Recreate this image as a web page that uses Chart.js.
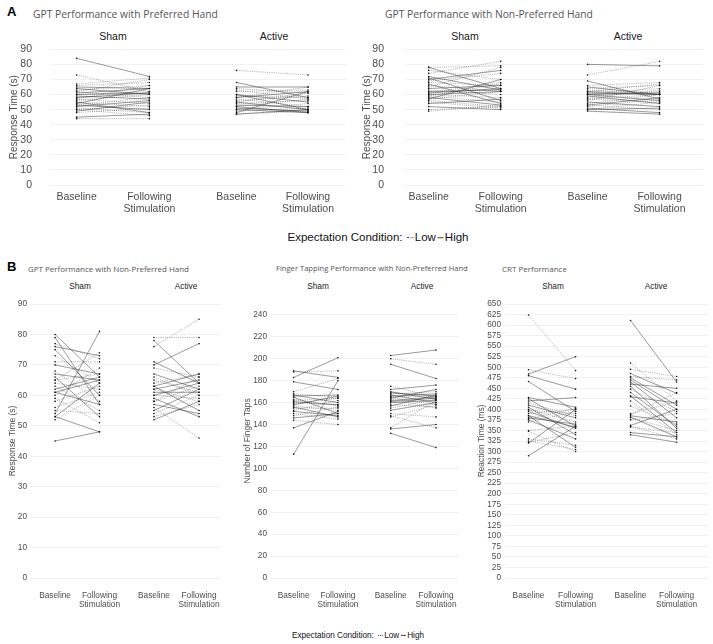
<!DOCTYPE html>
<html><head><meta charset="utf-8">
<script src="https://cdn.jsdelivr.net/npm/chart.js@4.4.1/dist/chart.umd.min.js"></script>
<style>
html,body{margin:0;padding:0;background:#fff;}
body{width:713px;height:644px;position:relative;overflow:hidden;font-family:"Liberation Sans",Arial,sans-serif;}
.t{position:absolute;white-space:nowrap;line-height:1;}
.c{transform:translate(-50%,-50%);}
.l{transform:translate(0,-50%);}
.ttl{font-family:"Open Sans",sans-serif;color:#555;}
.strip{color:#1a1a1a;}
.letter{font-weight:bold;color:#000;font-size:13px;}
.key{display:inline-block;width:6px;height:0;border-top:1px solid #444;vertical-align:middle;margin:0 1px 0 2px;}
.key.dot{border-top-style:dotted;}
canvas{position:absolute;}
</style></head><body>

<div class="t l letter" style="left:7px;top:11px;">A</div>
<div class="t l ttl fit" data-w="185" style="left:33px;top:14px;font-size:11px;">GPT Performance with Preferred Hand</div>
<div class="t l ttl fit" data-w="208" style="left:385px;top:14px;font-size:11px;">GPT Performance with Non-Preferred Hand</div>
<div class="t c strip" style="left:113px;top:36px;font-size:10.5px;">Sham</div>
<div class="t c strip" style="left:274px;top:36px;font-size:10.5px;">Active</div>
<div class="t c strip" style="left:465px;top:36px;font-size:10.5px;">Sham</div>
<div class="t c strip" style="left:628px;top:36px;font-size:10.5px;">Active</div>
<div class="t c" style="left:378px;top:238px;font-size:11.5px;color:#111;">Expectation Condition: <span class="key dot"></span>Low<span class="key"></span>High</div>

<div class="t l letter" style="left:7px;top:266px;">B</div>
<div class="t l ttl fit" data-w="161" style="left:28px;top:269px;font-size:8px;">GPT Performance with Non-Preferred Hand</div>
<div class="t l ttl fit" data-w="192" style="left:276px;top:269px;font-size:8px;">Finger Tapping Performance with Non-Preferred Hand</div>
<div class="t l ttl fit" data-w="65" style="left:502px;top:269px;font-size:8px;">CRT Performance</div>
<div class="t c strip" style="left:80px;top:286px;font-size:8.3px;">Sham</div>
<div class="t c strip" style="left:186px;top:286px;font-size:8.3px;">Active</div>
<div class="t c strip" style="left:318px;top:286px;font-size:8.3px;">Sham</div>
<div class="t c strip" style="left:422px;top:286px;font-size:8.3px;">Active</div>
<div class="t c strip" style="left:553px;top:286px;font-size:8.3px;">Sham</div>
<div class="t c strip" style="left:656px;top:286px;font-size:8.3px;">Active</div>
<div class="t c" style="left:358px;top:636px;font-size:8.2px;color:#111;">Expectation Condition: <span class="key dot" style="width:5px"></span>Low<span class="key" style="width:5px"></span>High</div>

<canvas id="cA1"></canvas>
<canvas id="cA2"></canvas>
<canvas id="cB1"></canvas>
<canvas id="cB2"></canvas>
<canvas id="cB3"></canvas>

<script>
// ---------- categories & tick labels ----------
const timepoints = ['Baseline', ['Following', 'Stimulation']];
const stimulationGroups = ['Sham', 'Active'];
const expectationLevels = ['Low', 'High'];
const gptTicks = [0, 10, 20, 30, 40, 50, 60, 70, 80, 90];
const tapTicks = [0, 20, 40, 60, 80, 100, 120, 140, 160, 180, 200, 220, 240];
const crtTicks = [0,25,50,75,100,125,150,175,200,225,250,275,300,325,350,375,400,425,450,475,500,525,550,575,600,625,650];

// ---------- A: GPT preferred hand (s) ----------
const gptPrefShamBaseline  = [84,73,67,66,65,64,63,62,61,60,59,58,57,56,55,54,53,53,52,51,50,50,49,48,45,44,57,62,55,60];
const gptPrefShamFollowing = [72,62,71,68,64,60,66,58,64,62,57,61,54,60,52,64,50,58,56,48,53,46,55,51,47,44,66,70,48,61];
const gptPrefShamExpect    = ['H','L','L','L','H','H','L','L','H','L','H','H','L','L','L','H','H','L','H','L','L','L','H','L','H','L','L','L','H','H'];
const gptPrefActiveBaseline  = [76,68,65,64,62,60,59,58,57,56,55,54,53,52,51,50,50,49,48,47,47,58,55,52,60,63];
const gptPrefActiveFollowing = [73,58,65,61,63,55,58,62,52,59,50,56,52,57,49,54,48,51,62,50,49,65,61,48,50,57];
const gptPrefActiveExpect    = ['L','H','H','L','L','H','L','H','L','L','H','L','H','L','H','L','H','L','H','H','L','L','L','H','H','L'];

// ---------- A: GPT non-preferred hand (s) ----------
const gptNonPrefAShamBaseline  = [78,78,76,74,72,71,70,69,68,67,66,65,63,62,61,60,60,59,59,58,57,57,56,55,54,52,50,49,61,64];
const gptNonPrefAShamFollowing = [64,79,70,82,63,56,76,74,66,54,62,78,60,63,64,58,62,55,67,53,62,70,52,51,57,50,52,53,68,66];
const gptNonPrefAShamExpect    = ['H','L','L','L','H','H','H','L','L','H','L','L','L','H','H','L','H','L','L','H','L','H','L','L','H','H','L','L','L','H'];
const gptNonPrefAActiveBaseline  = [80,73,69,66,65,64,63,62,61,61,60,60,59,58,57,56,55,54,53,53,52,51,50,49,50,62,60,57];
const gptNonPrefAActiveFollowing = [79,82,57,68,60,66,61,60,60,64,62,56,54,63,55,66,52,60,58,50,57,48,51,47,55,67,61,60];
const gptNonPrefAActiveExpect    = ['H','L','H','L','H','L','L','H','H','L','L','H','H','L','L','L','H','L','H','L','L','H','H','H','L','L','H','L'];

// ---------- B: GPT non-preferred hand (s) ----------
const gptNonPrefBShamBaseline  = [80,79,77,76,75,71,68,67,66,65,65,64,63,62,61,61,60,59,56,55,54,53,53,52,45,58,70,73];
const gptNonPrefBShamFollowing = [66,57,72,73,60,71,58,65,53,67,74,62,55,66,65,57,69,51,61,54,81,48,64,60,48,63,67,64];
const gptNonPrefBShamExpect    = ['H','H','L','H','H','L','L','H','H','L','L','L','L','H','H','H','L','L','L','L','H','H','H','L','H','L','H','L'];
const gptNonPrefBActiveBaseline  = [79,78,76,71,70,69,67,66,64,63,62,62,61,60,60,59,58,57,56,55,54,53,52,63,65,58];
const gptNonPrefBActiveFollowing = [79,64,85,64,77,66,62,60,67,55,65,58,61,64,59,53,63,54,46,62,60,57,58,67,61,66];
const gptNonPrefBActiveExpect    = ['L','H','L','H','H','L','H','L','L','H','H','L','H','H','L','H','L','H','L','H','L','L','H','H','L','L'];

// ---------- B: Finger tapping (taps) ----------
const tapShamBaseline  = [189,188,183,179,170,168,167,166,165,163,162,160,158,157,156,155,153,152,150,148,146,144,137,113,161,159];
const tapShamFollowing = [183,189,201,172,182,165,160,167,150,157,164,158,166,153,147,155,162,148,145,156,150,140,152,180,158,164];
const tapShamExpect    = ['H','L','H','H','L','L','H','H','H','L','L','L','H','L','H','L','L','H','L','L','H','L','H','H','H','L'];
const tapActiveBaseline  = [203,200,195,175,172,170,169,168,167,166,165,164,163,162,160,158,157,155,153,150,148,147,137,136,132,161,165];
const tapActiveFollowing = [208,195,182,165,176,163,166,170,160,168,158,172,155,165,162,156,167,163,160,147,137,158,162,140,119,164,166];
const tapActiveExpect    = ['H','L','H','L','H','H','H','L','H','H','L','H','L','H','H','L','H','L','H','L','L','L','L','H','H','H','L'];

// ---------- B: CRT (ms) ----------
const crtShamBaseline  = [624,494,484,480,466,428,425,420,415,410,405,400,395,390,385,380,378,375,370,350,348,330,325,322,320,290,385,398];
const crtShamFollowing = [492,473,525,448,395,405,360,428,385,380,340,370,355,400,310,365,402,330,395,360,300,315,305,345,400,360,358,390];
const crtShamExpect    = ['L','L','H','H','H','H','H','H','L','H','H','L','H','L','H','H','L','H','L','L','L','L','L','L','H','H','H','L'];
const crtActiveBaseline  = [611,510,495,485,478,475,470,465,460,455,448,440,432,430,420,408,390,388,385,382,380,375,362,360,358,345,340];
const crtActiveFollowing = [465,420,478,438,470,410,400,380,450,355,395,360,345,415,340,365,418,440,370,335,350,390,400,330,345,335,322];
const crtActiveExpect    = ['H','L','L','H','L','H','H','H','H','H','L','H','H','H','L','L','L','L','H','H','L','L','H','L','L','H','H'];

// ---------- layout (positions/sizes only) ----------
const panels = [
  {id:'cA1', left:0,   top:25,  width:350, height:190, yW:50, tickPad:18, titlePad:8, fs:10.5, tfs:10,  xPad:6,  xH:30, lh:1.14, L:50,  px:[77,150.7,239,311.5], yMax:90,  ticks:gptTicks, yTitle:'Response Time (s)',
   data:[[gptPrefShamBaseline,gptPrefShamFollowing,gptPrefShamExpect],[gptPrefActiveBaseline,gptPrefActiveFollowing,gptPrefActiveExpect]]},
  {id:'cA2', left:355, top:22,  width:352, height:193, yW:50, tickPad:21, titlePad:6, fs:10.5, tfs:10,  xPad:6,  xH:30, lh:1.14, L:405, px:[429,502,590,663],    yMax:90,  ticks:gptTicks, yTitle:'Response Time (s)',
   data:[[gptNonPrefAShamBaseline,gptNonPrefAShamFollowing,gptNonPrefAShamExpect],[gptNonPrefAActiveBaseline,gptNonPrefAActiveFollowing,gptNonPrefAActiveExpect]]},
  {id:'cB1', left:0,   top:294, width:233, height:319, yW:30, tickPad:3,  titlePad:8, fs:8.3,  tfs:8.4, xPad:13, xH:35, lh:1.1,  L:30,  px:[56.7,104,162,210],   yMax:90,  ticks:gptTicks, yTitle:'Response Time (s)',
   data:[[gptNonPrefBShamBaseline,gptNonPrefBShamFollowing,gptNonPrefBShamExpect],[gptNonPrefBActiveBaseline,gptNonPrefBActiveFollowing,gptNonPrefBActiveExpect]]},
  {id:'cB2', left:235, top:294, width:235, height:319, yW:36, tickPad:4,  titlePad:8, fs:8.3,  tfs:8.4, xPad:13, xH:35, lh:1.1,  L:271, px:[295,342,398,446],    yMax:250, ticks:tapTicks, yTitle:'Number of Finger Taps',
   data:[[tapShamBaseline,tapShamFollowing,tapShamExpect],[tapActiveBaseline,tapActiveFollowing,tapActiveExpect]]},
  {id:'cB3', left:470, top:294, width:242, height:319, yW:35, tickPad:4,  titlePad:7, fs:8.3,  tfs:8.4, xPad:13, xH:35, lh:1.1,  L:505, px:[529,577,633,680],    yMax:650, ticks:crtTicks, yTitle:'Reaction Time (ms)',
   data:[[crtShamBaseline,crtShamFollowing,crtShamExpect],[crtActiveBaseline,crtActiveFollowing,crtActiveExpect]]}
];

const FONT = '"Liberation Sans", Arial, sans-serif';

panels.forEach(p => {
  const cv = document.getElementById(p.id);
  cv.width = p.width; cv.height = p.height;
  cv.style.left = p.left + 'px'; cv.style.top = p.top + 'px';
  cv.style.width = p.width + 'px'; cv.style.height = p.height + 'px';
  const R = p.left + p.width;
  const xs = p.px.map(v => (v - p.L) / (R - p.L) * 100);
  const datasets = [];
  p.data.forEach((facet, f) => {
    const [base, foll, exp] = facet;
    base.forEach((b, i) => {
      const low = exp[i] === 'L';
      datasets.push({
        label: stimulationGroups[f] + ' ' + (low ? expectationLevels[0] : expectationLevels[1]),
        data: [{x: xs[2*f], y: b}, {x: xs[2*f+1], y: foll[i]}],
        borderColor: low ? 'rgba(70,70,70,0.75)' : 'rgba(45,45,45,0.8)',
        borderWidth: 0.6,
        borderDash: low ? [1, 1.2] : [],
        pointRadius: 0.8,
        pointBorderWidth: 0,
        pointBackgroundColor: '#111',
        showLine: true,
        fill: false,
        tension: 0
      });
    });
  });
  new Chart(cv, {
    type: 'line',
    data: {datasets},
    options: {
      responsive: false, animation: false, devicePixelRatio: 1,
      layout: {padding: {top: 10, left: 0, right: 0, bottom: 0}},
      plugins: {legend: {display: false}, tooltip: {enabled: false}, title: {display: false}},
      scales: {
        x: {
          type: 'linear', min: 0, max: 100, bounds: 'data',
          grid: {display: false, drawTicks: false},
          border: {display: false},
          afterBuildTicks: s => { s.ticks = xs.map(v => ({value: v})); s.min = 0; s.max = 100; },
          afterFit: s => { s.height = p.xH; },
          ticks: {
            autoSkip: false, maxRotation: 0, minRotation: 0, padding: p.xPad,
            color: '#4d4d4d', font: {family: FONT, size: p.fs, lineHeight: p.lh},
            callback: (v, i) => timepoints[i % 2]
          }
        },
        y: {
          type: 'linear', min: 0, max: p.yMax, bounds: 'data',
          grid: {color: '#ebebeb', lineWidth: 0.7, drawTicks: false},
          border: {display: false},
          afterBuildTicks: s => { s.ticks = p.ticks.map(v => ({value: v})); s.min = 0; s.max = p.yMax; },
          afterFit: s => { s.width = p.yW; },
          ticks: {autoSkip: false, padding: p.tickPad, color: '#4d4d4d', font: {family: FONT, size: p.fs}},
          title: {display: true, text: p.yTitle, color: '#4d4d4d', padding: {top: p.titlePad, bottom: 0}, font: {family: FONT, size: p.tfs, lineHeight: 1.2}}
        }
      }
    }
  });
});

// fit title widths to the measured layout
(function(){
  const ctx = document.createElement('canvas').getContext('2d');
  document.querySelectorAll('.fit').forEach(el => {
    const target = parseFloat(el.dataset.w);
    const cs = getComputedStyle(el);
    const size = parseFloat(cs.fontSize);
    ctx.font = size + 'px ' + cs.fontFamily;
    const w = ctx.measureText(el.textContent).width;
    if (w > 0) el.style.fontSize = (size * target / w).toFixed(2) + 'px';
  });
})();
</script>
</body></html>
